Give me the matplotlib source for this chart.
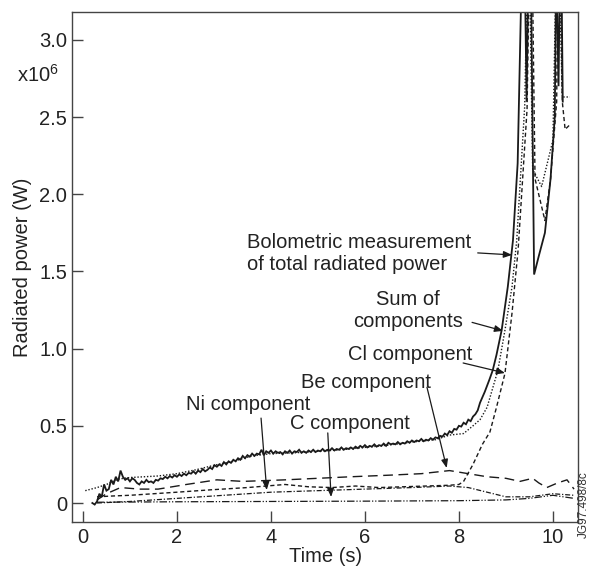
import numpy as np
import matplotlib
matplotlib.use("Agg")
import matplotlib.pyplot as plt

plt.rcParams['font.family'] = ['Liberation Sans', 'DejaVu Sans']
plt.rcParams['mathtext.default'] = 'regular'

# ---------------- data ----------------
x_ticks = [0, 2, 4, 6, 8, 10]
y_ticks = [0, 0.5, 1.0, 1.5, 2.0, 2.5, 3.0]
y_ticklabels = ["0", "0.5", "1.0", "1.5", "2.0", "2.5", "3.0"]

# bolometric measurement (x1e6 W), dense part sampled every 0.05 s from 0.20 s
bolo_t0 = 0.20
bolo_dt = 0.05
bolo_dense = [
    0.00, -0.01, 0.01, 0.06, 0.04, 0.12, 0.08, 0.09, 0.15, 0.12,
    0.17, 0.14, 0.21, 0.17, 0.15, 0.16, 0.14, 0.16, 0.15, 0.13,
    0.12, 0.14, 0.13, 0.15, 0.135, 0.14, 0.13, 0.15, 0.145, 0.16,
    0.155, 0.17, 0.16, 0.175, 0.165, 0.18, 0.17, 0.185, 0.175, 0.19,
    0.18, 0.195, 0.19, 0.205, 0.19, 0.21, 0.20, 0.22, 0.205, 0.215,
    0.23, 0.22, 0.245, 0.235, 0.25, 0.24, 0.265, 0.25, 0.27, 0.26,
    0.28, 0.27, 0.29, 0.28, 0.305, 0.29, 0.31, 0.30, 0.32, 0.305,
    0.32, 0.315, 0.345, 0.31, 0.335, 0.325, 0.34, 0.32, 0.335, 0.325,
    0.33, 0.315, 0.335, 0.325, 0.34, 0.32, 0.335, 0.33, 0.345, 0.325,
    0.335, 0.325, 0.34, 0.33, 0.345, 0.33, 0.34, 0.335, 0.35, 0.335,
    0.345, 0.34, 0.355, 0.34, 0.35, 0.345, 0.36, 0.345, 0.355, 0.35,
    0.36, 0.35, 0.365, 0.355, 0.37, 0.36, 0.375, 0.36, 0.37, 0.365,
    0.38, 0.365, 0.375, 0.37, 0.385, 0.37, 0.39, 0.38, 0.385, 0.38,
    0.395, 0.38, 0.39, 0.385, 0.40, 0.39, 0.405, 0.395, 0.405, 0.40,
    0.415, 0.40, 0.41, 0.405, 0.42, 0.41, 0.425, 0.42, 0.435, 0.43,
    0.45, 0.44, 0.465, 0.455, 0.48, 0.475, 0.50, 0.495, 0.52, 0.51,
    0.54, 0.53, 0.56, 0.575, 0.60, 0.65,
]
bolo_tail_t = [8.55, 8.65, 8.72, 8.80, 8.91, 9.04, 9.15, 9.25, 9.34, 9.40, 9.44,
               9.48, 9.53, 9.60, 9.70, 9.83, 9.95, 10.04, 10.07, 10.12, 10.15,
               10.18, 10.21]
bolo_tail_v = [0.72, 0.80, 0.86, 0.96, 1.12, 1.40, 1.70, 2.20, 3.50, 3.50, 2.60,
               3.50, 3.50, 1.48, 1.60, 1.75, 2.10, 2.50, 3.50, 2.70, 3.50,
               3.50, 2.60]

# sum of components
sum_t = [0.05, 0.30, 0.50, 0.75, 1.00, 1.30, 1.60, 2.00, 2.40, 2.80, 3.20, 3.60,
         4.00, 4.50, 5.00, 5.50, 6.00, 6.50, 7.00, 7.50, 7.80, 8.10, 8.30, 8.45,
         8.60, 8.83, 8.98, 9.13, 9.23, 9.40, 9.46, 9.50, 9.57, 9.76, 10.00,
         10.07, 10.13, 10.20, 10.36]
sum_v = [0.08, 0.10, 0.12, 0.155, 0.165, 0.17, 0.175, 0.19, 0.215, 0.245, 0.27,
         0.305, 0.32, 0.325, 0.335, 0.345, 0.36, 0.375, 0.395, 0.41, 0.44, 0.45,
         0.50, 0.54, 0.62, 0.86, 1.12, 1.40, 1.70, 2.57, 3.50, 3.50, 2.16, 2.05,
         2.35, 3.50, 3.50, 2.63, 2.63]

# Cl component
cl_t = [0.30, 0.60, 1.00, 1.50, 2.00, 2.70, 3.50, 4.30, 4.80, 5.30, 5.80, 6.30,
        6.80, 7.30, 7.80, 8.00, 8.10, 8.30, 8.50, 8.66, 8.80, 8.98, 9.13, 9.26,
        9.45, 9.50, 9.56, 9.62, 9.83, 9.95, 10.08, 10.11, 10.16, 10.20, 10.26,
        10.36]
cl_v = [0.04, 0.045, 0.05, 0.06, 0.07, 0.085, 0.10, 0.12, 0.105, 0.10, 0.11,
        0.10, 0.105, 0.11, 0.115, 0.12, 0.14, 0.25, 0.38, 0.46, 0.62, 0.84, 1.23,
        1.64, 2.55, 3.50, 3.50, 2.10, 1.83, 2.10, 2.60, 3.50, 3.50, 2.60, 2.42,
        2.45]

# Be component
be_t = [0.30, 0.50, 0.80, 1.20, 1.60, 2.20, 2.85, 3.40, 4.30, 5.00, 5.70, 6.50,
        7.20, 7.80, 8.20, 8.60, 9.00, 9.30, 9.57, 9.70, 9.87, 10.10, 10.30, 10.45]
be_v = [0.02, 0.06, 0.10, 0.09, 0.09, 0.12, 0.15, 0.14, 0.15, 0.16, 0.17, 0.18,
        0.19, 0.21, 0.19, 0.17, 0.16, 0.14, 0.16, 0.13, 0.10, 0.13, 0.15, 0.09]

# Ni component
ni_t = [0.30, 1.00, 2.00, 3.00, 4.00, 5.00, 6.00, 7.00, 7.80, 8.20, 8.60, 9.00,
        9.50, 10.00, 10.45]
ni_v = [0.00, 0.01, 0.03, 0.05, 0.07, 0.08, 0.09, 0.10, 0.11, 0.10, 0.07, 0.04,
        0.04, 0.06, 0.05]

# C component
c_t = [0.30, 2.00, 4.00, 6.00, 8.00, 9.00, 9.50, 10.00, 10.45]
c_v = [0.005, 0.008, 0.010, 0.012, 0.015, 0.020, 0.030, 0.050, 0.030]

# ---------------- figure ----------------
fig = plt.figure(figsize=(5.89, 5.68), dpi=100)
ax = fig.add_axes([0.123, 0.081, 0.858, 0.898])

ink = '#1a1a1a'
bolo_t = list(bolo_t0 + bolo_dt * np.arange(len(bolo_dense))) + bolo_tail_t
bolo_v = bolo_dense + bolo_tail_v

ax.plot(bolo_t, bolo_v, color=ink, lw=1.3, solid_joinstyle='miter')
ax.plot(sum_t, sum_v, color=ink, lw=1.0, linestyle=(0, (1, 1.3)))
ax.plot(cl_t, cl_v, color=ink, lw=1.0, linestyle=(0, (3, 2)))
ax.plot(be_t, be_v, color=ink, lw=1.0, linestyle=(0, (7, 4)))
ax.plot(ni_t, ni_v, color=ink, lw=0.9, linestyle=(0, (4, 1.5, 1, 1.5)))
ax.plot(c_t, c_v, color=ink, lw=0.9, linestyle=(0, (6, 1.5, 1, 1.5, 1, 1.5)))

fs = 14.5
tc = '#222222'

ax.set_xlim(-0.223, 10.53)
ax.set_ylim(-0.123, 3.181)
ax.set_xticks(x_ticks)
ax.set_yticks(y_ticks)
ax.set_yticklabels(y_ticklabels)
ax.tick_params(direction='in', length=8, width=1, color='#444444',
               labelsize=fs, labelcolor=tc, pad=4)
for s in ax.spines.values():
    s.set_color('#444444')
    s.set_linewidth(1.0)

ax.set_xlabel("Time (s)", fontsize=fs, color=tc, labelpad=0)
ax.set_ylabel("Radiated power (W)", fontsize=fs, color=tc, labelpad=5)

fig.text(17 / 589, 1 - 75 / 568, "x10$^{6}$", fontsize=fs, color=tc,
         ha='left', va='center')
fig.text(584 / 589, 1 - 505 / 568, "JG97.498/8c", fontsize=8.5, color='#333333',
         rotation=90, ha='center', va='center')

ax.text(3.49, 1.613, "Bolometric measurement\nof total radiated power", fontsize=fs,
        color=tc, ha='left', va='center', linespacing=1.2)
ax.text(6.91, 1.25, "Sum of\ncomponents", fontsize=fs, color=tc, ha='center',
        va='center', multialignment='center', linespacing=1.2)
ax.text(6.96, 0.965, "Cl component", fontsize=fs, color=tc, ha='center', va='center')
ax.text(6.02, 0.778, "Be component", fontsize=fs, color=tc, ha='center', va='center')
ax.text(3.51, 0.635, "Ni component", fontsize=fs, color=tc, ha='center', va='center')
ax.text(5.68, 0.512, "C component", fontsize=fs, color=tc, ha='center', va='center')

arrows = [
    ((8.40, 1.62), (9.13, 1.607)),
    ((8.28, 1.17), (8.94, 1.115)),
    ((8.09, 0.907), (8.98, 0.842)),
    ((7.32, 0.75), (7.74, 0.227)),
    ((3.79, 0.55), (3.91, 0.084)),
    ((5.21, 0.454), (5.28, 0.039)),
]
for start, tip in arrows:
    ax.annotate("", xy=tip, xytext=start,
                arrowprops=dict(arrowstyle='-|>,head_length=0.5,head_width=0.2',
                                color=ink, lw=0.9, shrinkA=0, shrinkB=0))

fig.savefig("out.png", dpi=100)
